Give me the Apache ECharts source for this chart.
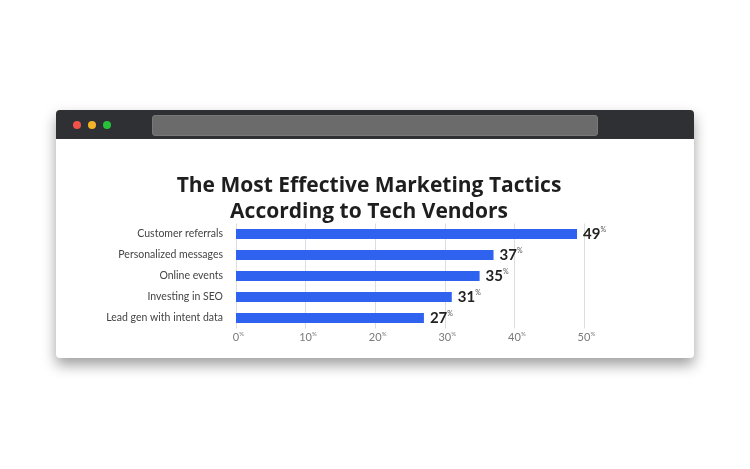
<!DOCTYPE html>
<html>
<head>
<meta charset="utf-8">
<script src="https://cdn.jsdelivr.net/npm/echarts@6/dist/echarts.min.js"></script>
<style>
  html, body { margin: 0; padding: 0; background: #ffffff; width: 750px; height: 469px; overflow: hidden; }
  #frame { position: absolute; left: 56px; top: 110px; width: 638px; height: 248px; background: #fff; border-radius: 4px; box-shadow: 0 7px 14px rgba(0,0,0,0.38); overflow: hidden; }
  #bar { position: absolute; left: 0; top: 0; width: 638px; height: 29px; background: #2f3033; }
  .dot { position: absolute; top: 11px; width: 8px; height: 8px; border-radius: 50%; }
  #addr { position: absolute; left: 96px; top: 5px; width: 444px; height: 19px; background: #6b6b6b; border: 1px solid #787878; border-radius: 3px; }
  #chart { position: absolute; left: 0; top: 0; width: 750px; height: 469px; }
</style>
</head>
<body>
<div id="frame">
  <div id="bar">
    <div class="dot" style="left:17px;background:#f0524a"></div>
    <div class="dot" style="left:32px;background:#f5b428"></div>
    <div class="dot" style="left:47px;background:#28c13a"></div>
    <div id="addr"></div>
  </div>
</div>
<div id="chart"></div>
<script>
const titleLines = ['The Most Effective Marketing Tactics', 'According to Tech Vendors'];
const categories = ['Customer referrals', 'Personalized messages', 'Online events', 'Investing in SEO', 'Lead gen with intent data'];
const values = [49, 37, 35, 31, 27];
const xTicks = [0, 10, 20, 30, 40, 50];

const chart = echarts.init(document.getElementById('chart'), null, { renderer: 'canvas' });
const font = 'Lato, "Open Sans", sans-serif';
chart.setOption({
  backgroundColor: 'transparent',
  animation: false,
  title: {
    text: titleLines.join('\n'),
    left: 364,
    textAlign: 'center',
    top: 168,
    textStyle: { fontFamily: '"Open Sans", Lato, sans-serif', fontWeight: 'bold', fontSize: 21, lineHeight: 26, color: '#1e1e1e' }
  },
  grid: { left: 236, right: 166, top: 223.5, bottom: 140.5, containLabel: false },
  xAxis: {
    type: 'value',
    min: xTicks[0],
    max: xTicks[xTicks.length - 1],
    interval: 10,
    axisLine: { show: false },
    axisTick: { show: false },
    splitLine: { show: true, lineStyle: { color: '#dcdce4', width: 1 } },
    axisLabel: {
      margin: 3,
      formatter: v => '{s|}{n|' + v + '}{p|%}',
      rich: {
        s: { width: 5 },
        n: { fontFamily: font, fontSize: 11, color: '#7a7a7a' },
        p: { fontFamily: font, fontSize: 6, color: '#7a7a7a', width: 5, verticalAlign: 'top', padding: [0, 0, 3, 0] }
      }
    }
  },
  yAxis: {
    type: 'category',
    data: categories,
    inverse: true,
    axisLine: { show: false },
    axisTick: { show: false },
    splitLine: { show: false },
    axisLabel: { margin: 13, fontFamily: font, fontSize: 10.5, color: '#444' }
  },
  series: [{
    type: 'bar',
    data: values,
    barWidth: 10,
    itemStyle: { color: '#2e62ef', borderRadius: 0 },
    label: {
      show: true,
      position: 'right',
      distance: 6,
      formatter: p => '{n|' + p.value + '}{p|%}',
      rich: {
        n: { fontFamily: font, fontWeight: 'bold', fontSize: 15, color: '#222' },
        p: { fontFamily: font, fontSize: 7, color: '#555', verticalAlign: 'top', padding: [0, 0, 6, 0] }
      }
    }
  }]
});
</script>
</body>
</html>
